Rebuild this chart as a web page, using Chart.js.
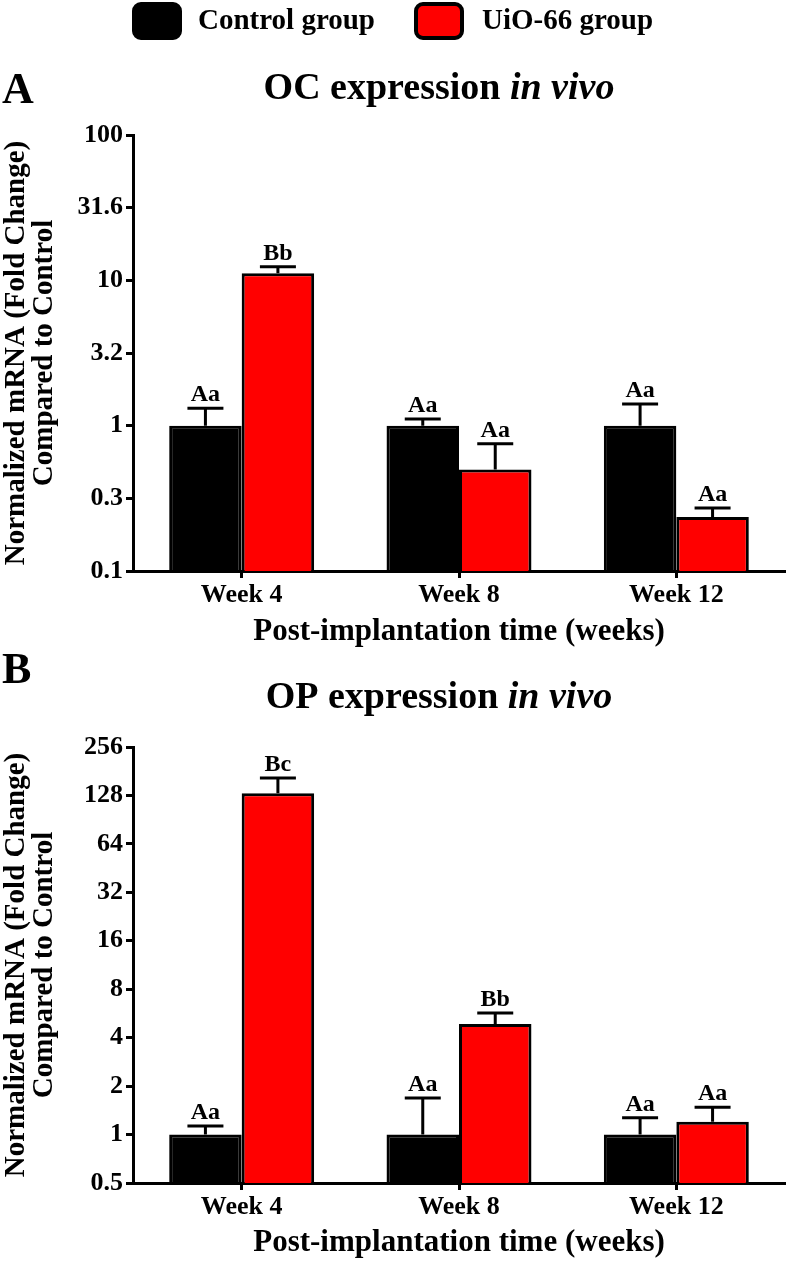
<!DOCTYPE html>
<html lang="en">
<head>
<meta charset="UTF-8">
<title>OC and OP expression in vivo</title>
<script src="https://cdn.jsdelivr.net/npm/chart.js"></script>
<style>
  body { margin: 0; background: #fff; }
  #wrap { position: relative; width: 786px; height: 1261px; }
  canvas { position: absolute; left: 0; }
  #chartA { top: 0; }
  #chartB { top: 640px; }
</style>
</head>
<body>
<div id="wrap">
  <canvas id="chartA" width="786" height="650"></canvas>
  <canvas id="chartB" width="786" height="621"></canvas>
</div>
<script>
const categories = ['Week 4', 'Week 8', 'Week 12'];
const groupNames = ['Control group', 'UiO-66 group'];

// panel A - OC (log10 axis)
const ocControl = [1, 1, 1];
const ocControlErr = [0.32, 0.11, 0.41];
const ocControlLetters = ['Aa', 'Aa', 'Aa'];
const ocUio = [11.2, 0.5, 0.235];
const ocUioErr = [1.2, 0.25, 0.036];
const ocUioLetters = ['Bb', 'Aa', 'Aa'];
const ocTicks = [0.1, 0.3162, 1, 3.162, 10, 31.62, 100];
const ocTickLabels = ['0.1', '0.3', '1', '3.2', '10', '31.6', '100'];

// panel B - OP (log2 axis)
const opControl = [1, 1, 1];
const opControlErr = [0.13, 0.69, 0.27];
const opControlLetters = ['Aa', 'Aa', 'Aa'];
const opUio = [132, 4.87, 1.2];
const opUioErr = [32, 0.83, 0.28];
const opUioLetters = ['Bc', 'Bb', 'Aa'];
const opTicks = [0.5, 1, 2, 4, 8, 16, 32, 64, 128, 256];
const opTickLabels = ['0.5', '1', '2', '4', '8', '16', '32', '64', '128', '256'];

const FONT = '"Liberation Serif", "Times New Roman", serif';
const colors = ['#000000', '#ff0000'];

function makeChart(id, p) {
  const errs = [p.controlErr, p.uioErr];
  const letters = [p.controlLetters, p.uioLetters];

  const errorBars = {
    id: 'errorBars',
    afterDatasetsDraw(chart) {
      const ctx = chart.ctx;
      const y = chart.scales.y;
      chart.data.datasets.forEach((ds, i) => {
        chart.getDatasetMeta(i).data.forEach((bar, j) => {
          const top = y.getPixelForValue(ds.data[j] + errs[i][j]);
          ctx.save();
          ctx.strokeStyle = '#000';
          ctx.lineWidth = 3;
          ctx.beginPath();
          ctx.moveTo(bar.x, bar.y);
          ctx.lineTo(bar.x, top);
          ctx.moveTo(bar.x - 18, top);
          ctx.lineTo(bar.x + 18, top);
          ctx.stroke();
          ctx.fillStyle = '#000';
          ctx.font = 'bold 24px ' + FONT;
          ctx.textAlign = 'center';
          ctx.textBaseline = 'alphabetic';
          ctx.fillText(letters[i][j], bar.x, top - 7);
          ctx.restore();
        });
      });
    }
  };

  const headings = {
    id: 'headings',
    afterDraw(chart) {
      const ctx = chart.ctx;
      ctx.save();
      ctx.fillStyle = '#000';
      ctx.textBaseline = 'alphabetic';
      ctx.textAlign = 'left';
      ctx.font = 'bold 44px ' + FONT;
      ctx.fillText(p.panel, 2, p.panelY);
      // title with italic part
      const f1 = 'bold 38px ' + FONT, f2 = 'italic bold 38px ' + FONT;
      ctx.font = f1;
      const w1 = ctx.measureText(p.title).width;
      ctx.font = f2;
      const w2 = ctx.measureText(p.titleItalic).width;
      let x = 439 - (w1 + w2) / 2;
      ctx.font = f1;
      ctx.fillText(p.title, x, p.titleY);
      ctx.font = f2;
      ctx.fillText(p.titleItalic, x + w1, p.titleY);

      if (p.legend) {
        const boxes = [{x: 134, tx: 198}, {x: 416, tx: 482}];
        chart.data.datasets.forEach((ds, i) => {
          ctx.beginPath();
          ctx.roundRect(boxes[i].x, 4, 46, 34, 7);
          ctx.fillStyle = ds.backgroundColor;
          ctx.fill();
          ctx.lineWidth = 4;
          ctx.strokeStyle = '#000';
          ctx.stroke();
          ctx.fillStyle = '#000';
          ctx.font = 'bold 29px ' + FONT;
          ctx.textBaseline = 'middle';
          ctx.fillText(ds.label, boxes[i].tx, 22);
          ctx.textBaseline = 'alphabetic';
        });
      }
      ctx.restore();
    }
  };

  return new Chart(document.getElementById(id), {
    type: 'bar',
    data: {
      labels: categories,
      datasets: [
        { label: groupNames[0], data: p.control, backgroundColor: colors[0], borderColor: '#000', borderWidth: 3 },
        { label: groupNames[1], data: p.uio, backgroundColor: colors[1], borderColor: '#000', borderWidth: 3 }
      ]
    },
    options: {
      responsive: false,
      animation: false,
      categoryPercentage: 0.667,
      barPercentage: 1,
      layout: { padding: { top: p.top, right: 1, left: 0, bottom: 0 } },
      plugins: { legend: { display: false }, tooltip: { enabled: false } },
      scales: {
        x: {
          offset: true,
          grid: { display: true, offset: false, drawOnChartArea: false, tickLength: 7, tickWidth: 3, tickColor: '#000' },
          border: { display: true, color: '#000', width: 3 },
          ticks: { color: '#000', padding: 2, maxRotation: 0, font: { family: FONT, size: 26, weight: 'bold' } },
          title: {
            display: true, text: 'Post-implantation time (weeks)', color: '#000',
            font: { family: FONT, size: 31, weight: 'bold', lineHeight: 1 },
            padding: { top: 0, bottom: 3 }
          },
          afterFit(scale) { scale.height = p.xHeight; }
        },
        y: {
          type: 'logarithmic',
          min: p.ticks[0],
          max: p.ticks[p.ticks.length - 1],
          afterBuildTicks(scale) { scale.ticks = p.ticks.map(v => ({ value: v })); },
          grid: { display: true, drawOnChartArea: false, tickLength: 7, tickWidth: 3, tickColor: '#000' },
          border: { display: true, color: '#000', width: 3 },
          ticks: {
            autoSkip: false, color: '#000', padding: 3,
            font: { family: FONT, size: 26, weight: 'bold' },
            callback: (v, i) => p.tickLabels[i]
          },
          title: {
            display: true, text: ['Normalized mRNA (Fold Change)', 'Compared to Control'], color: '#000',
            font: { family: FONT, size: 29, weight: 'bold', lineHeight: 0.95 },
            padding: { top: 3, bottom: 0 }
          },
          afterFit(scale) { scale.width = 133; }
        }
      }
    },
    plugins: [errorBars, headings]
  });
}

makeChart('chartA', {
  control: ocControl, controlErr: ocControlErr, controlLetters: ocControlLetters,
  uio: ocUio, uioErr: ocUioErr, uioLetters: ocUioLetters,
  ticks: ocTicks, tickLabels: ocTickLabels,
  panel: 'A', panelY: 103, title: 'OC expression ', titleItalic: 'in vivo', titleY: 99,
  legend: true, top: 135, xHeight: 79
});

makeChart('chartB', {
  control: opControl, controlErr: opControlErr, controlLetters: opControlLetters,
  uio: opUio, uioErr: opUioErr, uioLetters: opUioLetters,
  ticks: opTicks, tickLabels: opTickLabels,
  panel: 'B', panelY: 43, title: 'OP expression ', titleItalic: 'in vivo', titleY: 68,
  legend: false, top: 107, xHeight: 78
});
</script>
</body>
</html>
